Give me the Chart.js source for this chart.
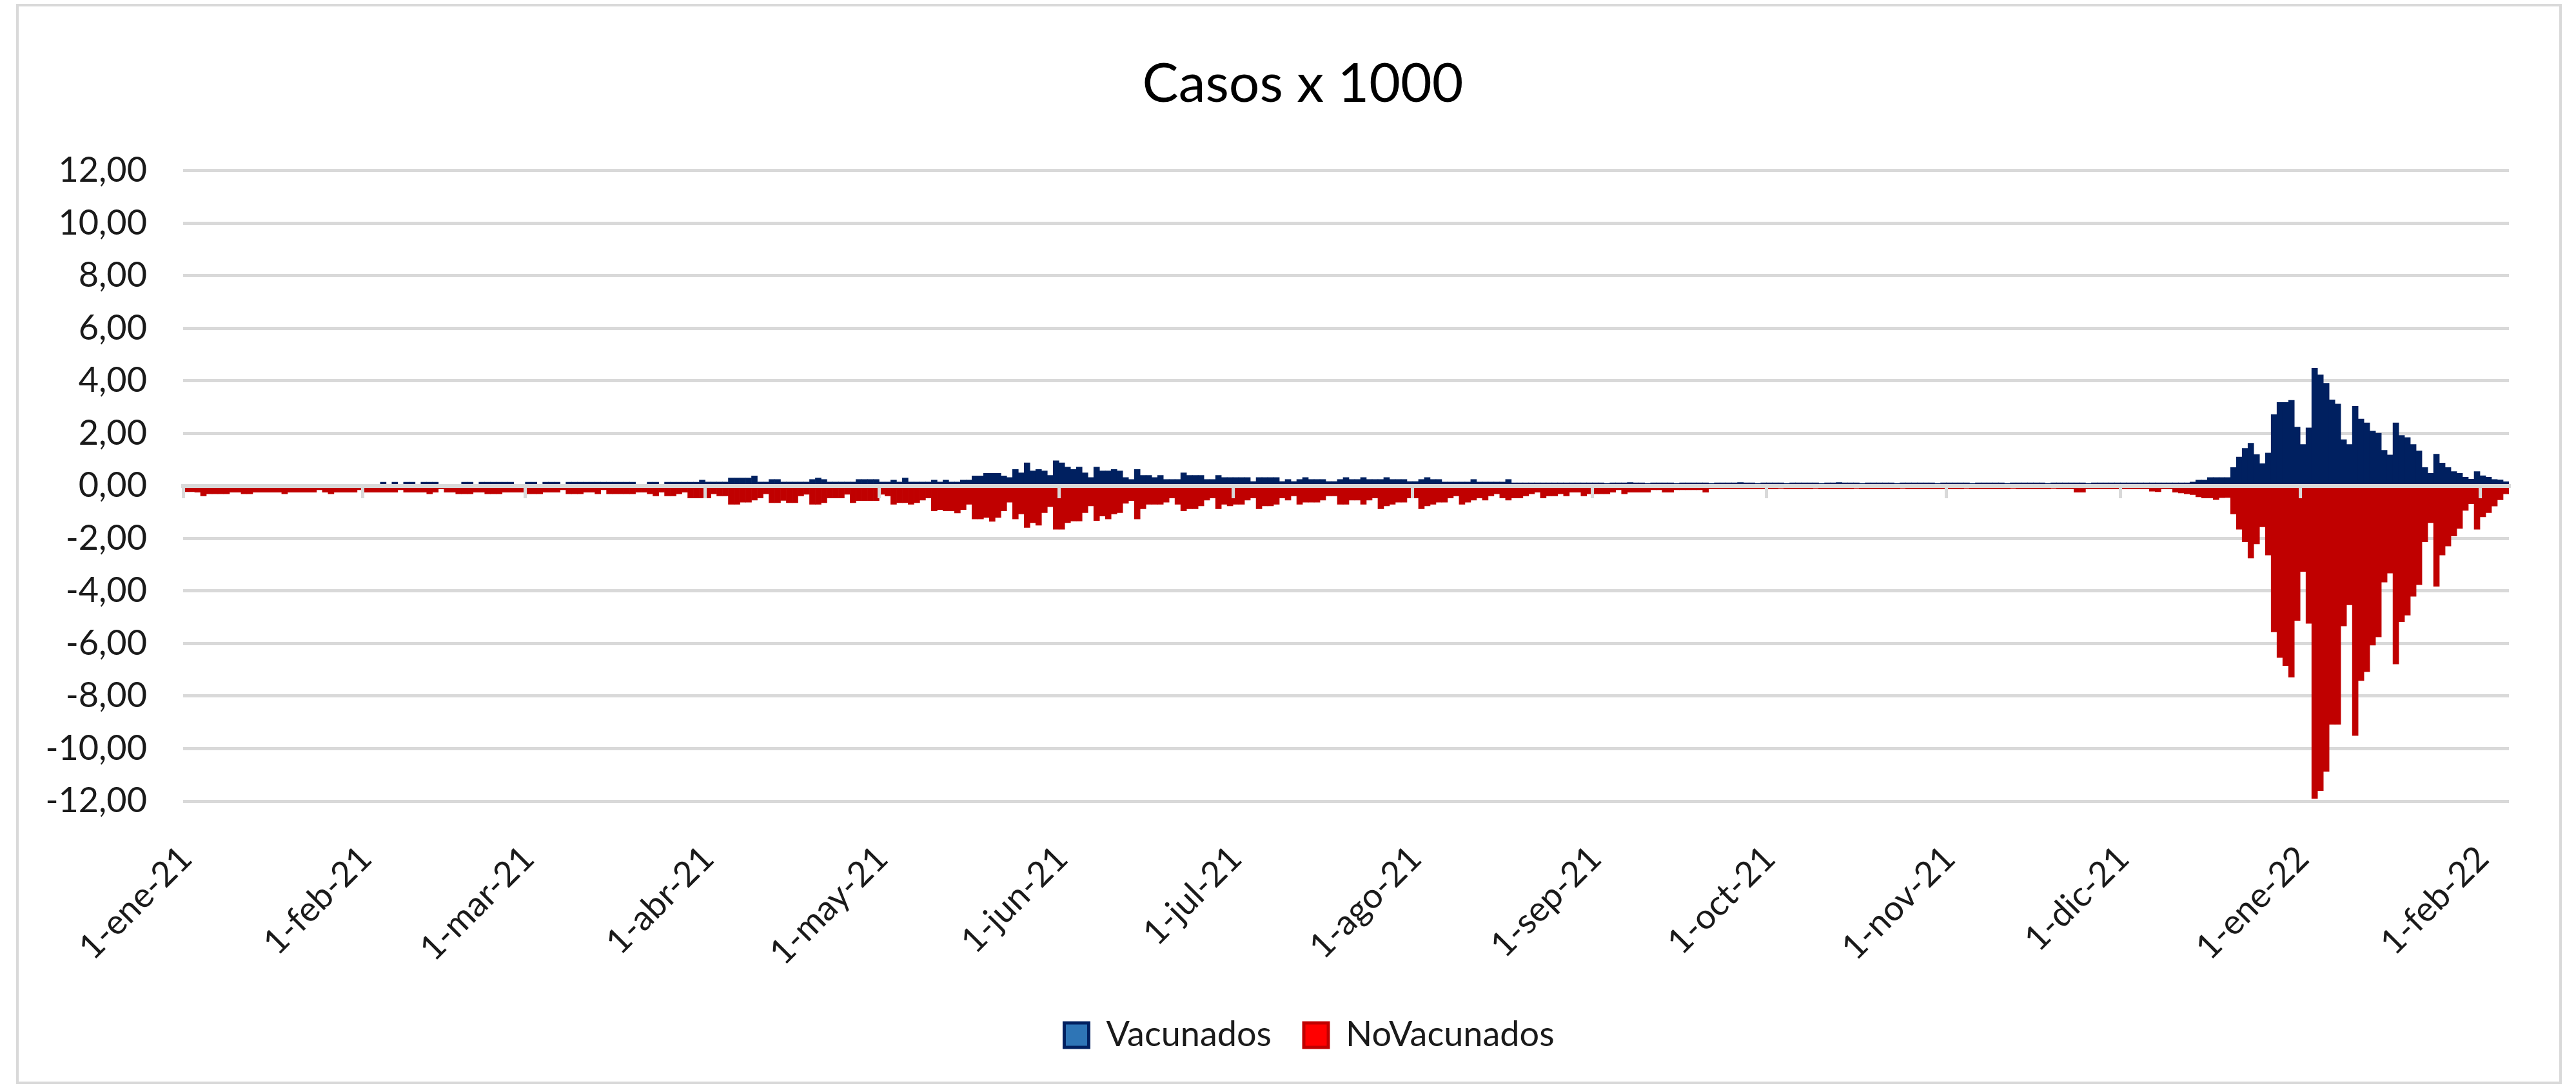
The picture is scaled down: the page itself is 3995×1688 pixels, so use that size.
<!DOCTYPE html>
<html lang="es">
<head>
<meta charset="utf-8">
<title>Casos x 1000</title>
<script src="https://cdn.jsdelivr.net/npm/chart.js@4.4.1/dist/chart.umd.min.js"></script>
<style>
  html, body { margin: 0; padding: 0; background: #fff; }
  #wrap { width: 3995px; height: 1688px; }
</style>
</head>
<body>
<div id="wrap"><canvas id="casosChart" width="3995" height="1688"></canvas></div>
<script>
// Meses para las etiquetas del eje X (d-mmm-aa)
const meses = ['ene', 'feb', 'mar', 'abr', 'may', 'jun', 'jul', 'ago', 'sep', 'oct', 'nov', 'dic'];

// Casos diarios x 1000, del 1-ene-21 al 5-feb-22 (una fila por mes)
const vacunados = [
  0, 0, 0, 0, 0, 0, 0, 0, 0, 0, 0, 0, 0, 0, 0, 0, 0, 0, 0, 0, 0, 0, 0, 0, 0, 0, 0, 0, 0, 0, 0,
  0, 0, 0, 0.14, 0.04, 0.14, 0.04, 0.14, 0.14, 0.04, 0.14, 0.14, 0.14, 0.04, 0.04, 0.04, 0.04, 0.14, 0.14, 0.04, 0.14, 0.14, 0.14, 0.14, 0.14, 0.14, 0.04, 0.04,
  0.14, 0.14, 0.04, 0.14, 0.14, 0.14, 0.04, 0.14, 0.14, 0.14, 0.14, 0.14, 0.14, 0.14, 0.14, 0.14, 0.14, 0.14, 0.14, 0.04, 0.04, 0.14, 0.14, 0.04, 0.14, 0.14, 0.14, 0.14, 0.14, 0.14, 0.22,
  0.15, 0.15, 0.15, 0.15, 0.3, 0.3, 0.3, 0.3, 0.38, 0.15, 0.15, 0.25, 0.25, 0.15, 0.15, 0.15, 0.15, 0.15, 0.25, 0.3, 0.25, 0.15, 0.15, 0.15, 0.15, 0.15, 0.25, 0.25, 0.25, 0.25,
  0.15, 0.15, 0.22, 0.15, 0.3, 0.15, 0.15, 0.15, 0.15, 0.22, 0.15, 0.22, 0.15, 0.15, 0.22, 0.22, 0.38, 0.38, 0.48, 0.48, 0.48, 0.38, 0.32, 0.63, 0.5, 0.88, 0.57, 0.63, 0.57, 0.4, 0.96,
  0.88, 0.72, 0.63, 0.72, 0.5, 0.32, 0.72, 0.57, 0.57, 0.63, 0.57, 0.32, 0.25, 0.63, 0.4, 0.4, 0.32, 0.4, 0.25, 0.25, 0.25, 0.5, 0.4, 0.4, 0.4, 0.25, 0.25, 0.4, 0.32, 0.32,
  0.32, 0.32, 0.32, 0.17, 0.32, 0.32, 0.32, 0.32, 0.17, 0.25, 0.17, 0.25, 0.32, 0.25, 0.25, 0.25, 0.17, 0.17, 0.25, 0.32, 0.25, 0.25, 0.32, 0.25, 0.25, 0.25, 0.32, 0.25, 0.25, 0.25, 0.17,
  0.17, 0.25, 0.32, 0.25, 0.25, 0.15, 0.15, 0.15, 0.15, 0.15, 0.25, 0.15, 0.15, 0.15, 0.15, 0.15, 0.25, 0.12, 0.12, 0.12, 0.12, 0.12, 0.12, 0.12, 0.12, 0.12, 0.12, 0.12, 0.12, 0.12, 0.12,
  0.12, 0.12, 0.1, 0.12, 0.12, 0.12, 0.13, 0.12, 0.12, 0.1, 0.12, 0.12, 0.12, 0.12, 0.1, 0.12, 0.12, 0.12, 0.12, 0.12, 0.1, 0.12, 0.12, 0.12, 0.12, 0.13, 0.12, 0.12, 0.1, 0.12,
  0.12, 0.12, 0.12, 0.1, 0.12, 0.12, 0.12, 0.12, 0.12, 0.1, 0.12, 0.12, 0.13, 0.12, 0.12, 0.12, 0.1, 0.12, 0.12, 0.12, 0.12, 0.12, 0.1, 0.12, 0.12, 0.12, 0.12, 0.12, 0.12, 0.1, 0.12,
  0.12, 0.12, 0.12, 0.12, 0.1, 0.12, 0.12, 0.12, 0.12, 0.12, 0.1, 0.12, 0.12, 0.12, 0.12, 0.12, 0.12, 0.1, 0.12, 0.12, 0.12, 0.12, 0.12, 0.12, 0.1, 0.12, 0.12, 0.12, 0.12, 0.12,
  0.12, 0.12, 0.12, 0.12, 0.12, 0.12, 0.12, 0.12, 0.12, 0.12, 0.12, 0.12, 0.15, 0.22, 0.22, 0.32, 0.32, 0.32, 0.32, 0.7, 1.1, 1.43, 1.63, 1.2, 0.85, 1.25, 2.72, 3.18, 3.18, 3.26, 2.24,
  1.58, 2.21, 4.48, 4.23, 3.91, 3.28, 3.12, 1.76, 1.58, 3.03, 2.55, 2.4, 2.09, 2.01, 1.36, 1.18, 2.4, 1.92, 1.84, 1.58, 1.33, 0.7, 0.48, 1.21, 0.87, 0.7, 0.55, 0.48, 0.33, 0.26, 0.55,
  0.39, 0.33, 0.25, 0.23, 0.16
];

const noVacunados = [
  -0.22, -0.22, -0.24, -0.38, -0.3, -0.3, -0.3, -0.3, -0.24, -0.24, -0.3, -0.3, -0.24, -0.24, -0.24, -0.24, -0.24, -0.3, -0.24, -0.24, -0.24, -0.24, -0.24, -0.15, -0.24, -0.3, -0.24, -0.24, -0.24, -0.24, -0.15,
  -0.24, -0.24, -0.24, -0.24, -0.24, -0.24, -0.15, -0.24, -0.24, -0.24, -0.24, -0.3, -0.24, -0.12, -0.24, -0.24, -0.3, -0.3, -0.3, -0.24, -0.24, -0.3, -0.3, -0.3, -0.24, -0.24, -0.24, -0.24,
  -0.3, -0.3, -0.3, -0.24, -0.24, -0.24, -0.15, -0.3, -0.3, -0.3, -0.24, -0.24, -0.3, -0.15, -0.3, -0.3, -0.3, -0.3, -0.3, -0.24, -0.24, -0.3, -0.38, -0.24, -0.38, -0.38, -0.3, -0.24, -0.46, -0.46, -0.46,
  -0.46, -0.3, -0.38, -0.38, -0.7, -0.7, -0.62, -0.62, -0.54, -0.46, -0.3, -0.64, -0.64, -0.55, -0.64, -0.64, -0.38, -0.32, -0.7, -0.7, -0.64, -0.46, -0.46, -0.46, -0.32, -0.64, -0.56, -0.56, -0.56, -0.56,
  -0.32, -0.38, -0.7, -0.64, -0.64, -0.7, -0.64, -0.54, -0.46, -0.95, -0.9, -0.95, -0.95, -1.03, -0.9, -0.7, -1.26, -1.26, -1.2, -1.35, -1.2, -0.95, -0.62, -1.26, -1.07, -1.58, -1.4, -1.5, -1.02, -0.79, -1.65,
  -1.65, -1.4, -1.34, -1.34, -1.02, -0.76, -1.32, -1.15, -1.26, -1.07, -1.02, -0.66, -0.56, -1.26, -0.87, -0.7, -0.7, -0.7, -0.62, -0.46, -0.7, -0.95, -0.87, -0.87, -0.76, -0.54, -0.46, -0.87, -0.7, -0.76,
  -0.7, -0.7, -0.54, -0.46, -0.87, -0.76, -0.76, -0.7, -0.46, -0.54, -0.38, -0.7, -0.62, -0.62, -0.62, -0.54, -0.38, -0.38, -0.7, -0.7, -0.54, -0.54, -0.7, -0.54, -0.46, -0.87, -0.76, -0.7, -0.62, -0.62, -0.46,
  -0.46, -0.87, -0.76, -0.7, -0.62, -0.62, -0.46, -0.38, -0.7, -0.62, -0.54, -0.46, -0.54, -0.38, -0.3, -0.46, -0.54, -0.46, -0.46, -0.38, -0.3, -0.24, -0.46, -0.38, -0.38, -0.3, -0.38, -0.24, -0.24, -0.38, -0.3,
  -0.3, -0.3, -0.3, -0.24, -0.15, -0.3, -0.24, -0.24, -0.24, -0.24, -0.15, -0.15, -0.24, -0.24, -0.15, -0.15, -0.15, -0.15, -0.15, -0.24, -0.12, -0.12, -0.12, -0.12, -0.12, -0.12, -0.12, -0.12, -0.12, -0.12,
  -0.12, -0.12, -0.1, -0.12, -0.12, -0.12, -0.12, -0.12, -0.1, -0.12, -0.12, -0.12, -0.12, -0.12, -0.12, -0.1, -0.12, -0.12, -0.12, -0.12, -0.12, -0.12, -0.12, -0.1, -0.12, -0.12, -0.12, -0.12, -0.12, -0.12, -0.12,
  -0.12, -0.12, -0.12, -0.1, -0.12, -0.12, -0.12, -0.12, -0.12, -0.12, -0.12, -0.1, -0.12, -0.12, -0.12, -0.12, -0.12, -0.12, -0.1, -0.12, -0.12, -0.12, -0.24, -0.24, -0.12, -0.12, -0.12, -0.12, -0.12, -0.12,
  -0.12, -0.12, -0.12, -0.12, -0.12, -0.2, -0.22, -0.12, -0.12, -0.24, -0.27, -0.3, -0.33, -0.42, -0.46, -0.46, -0.52, -0.45, -0.44, -1.07, -1.65, -2.13, -2.75, -2.21, -1.56, -2.63, -5.56, -6.53, -6.84, -7.28, -5.12,
  -3.26, -5.23, -11.9, -11.6, -10.87, -9.08, -9.08, -5.33, -4.53, -9.5, -7.41, -7.07, -6.06, -5.75, -3.66, -3.32, -6.78, -5.17, -4.92, -4.2, -3.76, -2.13, -1.4, -3.82, -2.63, -2.29, -1.91, -1.62, -0.93, -0.68, -1.65,
  -1.18, -1.02, -0.77, -0.53, -0.3
];

// Etiquetas de categoría: una fecha por día
const fechas = [];
for (let i = 0; i < vacunados.length; i++) {
  const d = new Date(2021, 0, 1 + i);
  fechas.push(d.getDate() + '-' + meses[d.getMonth()] + '-' + String(d.getFullYear()).slice(2));
}
const esInicioMes = i => typeof fechas[i] === 'string' && fechas[i].startsWith('1-');

const colorTexto = '#1a1a1a';
const colorRejilla = '#d9d9d9';
const fuente = 'Lato';

// Marco gris del área del gráfico
const marcoGrafico = {
  id: 'marcoGrafico',
  beforeDraw(chart) {
    const ctx = chart.ctx;
    ctx.save();
    ctx.fillStyle = '#ffffff';
    ctx.fillRect(0, 0, chart.width, chart.height);
    ctx.strokeStyle = colorRejilla;
    ctx.lineWidth = 4;
    ctx.strokeRect(27, 8, 3944, 1672);
    ctx.restore();
  }
};

// Título y leyenda un poco desplazados a la derecha, como en el original
const desplazarCajas = {
  id: 'desplazarCajas',
  afterLayout(chart) {
    if (chart.titleBlock) { chart.titleBlock.left += 48; chart.titleBlock.right += 48; }
    if (chart.legend) { chart.legend.left += 58; chart.legend.right += 58; }
  }
};

const ctx = document.getElementById('casosChart').getContext('2d');
new Chart(ctx, {
  type: 'bar',
  data: {
    labels: fechas,
    datasets: [
      {
        label: 'Vacunados',
        data: vacunados,
        backgroundColor: '#002060',
        borderWidth: 0,
        xAxisID: 'x',
        barPercentage: 1,
        categoryPercentage: 1
      },
      {
        label: 'NoVacunados',
        data: noVacunados,
        backgroundColor: '#C00000',
        borderWidth: 0,
        xAxisID: 'x',
        barPercentage: 1,
        categoryPercentage: 1
      }
    ]
  },
  options: {
    responsive: false,
    animation: false,
    layout: { padding: { left: 54, right: 104, top: 0, bottom: 45 } },
    plugins: {
      title: {
        display: true,
        text: 'Casos x 1000',
        color: '#000000',
        font: { family: fuente, size: 84, weight: 'normal' },
        padding: { top: 81, bottom: 83 }
      },
      legend: {
        position: 'bottom',
        labels: {
          color: colorTexto,
          font: { family: fuente, size: 54 },
          boxWidth: 38,
          boxHeight: 38,
          padding: 50,
          generateLabels: function (chart) {
            const items = Chart.defaults.plugins.legend.labels.generateLabels(chart);
            items[0].fillStyle = '#2E75B6';
            items[0].strokeStyle = '#002060';
            items[1].fillStyle = '#FF0000';
            items[1].strokeStyle = '#C00000';
            items.forEach(it => { it.lineWidth = 5; });
            return items;
          }
        }
      },
      tooltip: { enabled: false }
    },
    scales: {
      x: {
        stacked: true,
        offset: true,
        grid: { display: false, drawTicks: false },
        border: { display: false },
        ticks: {
          autoSkip: false,
          minRotation: 45,
          maxRotation: 45,
          padding: 57,
          color: colorTexto,
          font: { family: fuente, size: 54 },
          callback: function (value) {
            return esInicioMes(value) ? fechas[value] : '';
          }
        },
        afterFit: function (scale) { scale.height = 286; }
      },
      // eje horizontal en el cero, con marcas al inicio de cada mes
      x2: {
        type: 'category',
        position: { y: 0 },
        offset: true,
        ticks: { display: false },
        grid: {
          offset: true,
          drawOnChartArea: false,
          drawTicks: true,
          tickLength: 16,
          lineWidth: 5,
          z: 1,
          color: function (c) {
            return (c.type === 'tick' && esInicioMes(c.index)) ? colorRejilla : 'rgba(0,0,0,0)';
          }
        },
        border: { display: true, color: colorRejilla, width: 6, z: 1 }
      },
      y: {
        stacked: true,
        min: -12,
        max: 12,
        grid: { color: colorRejilla, lineWidth: 5, drawTicks: false },
        border: { display: false },
        ticks: {
          stepSize: 2,
          padding: 56,
          color: colorTexto,
          font: { family: fuente, size: 54 },
          callback: function (value) {
            return value.toFixed(2).replace('.', ',');
          }
        },
        afterFit: function (scale) { scale.width = 230; }
      }
    }
  },
  plugins: [marcoGrafico, desplazarCajas]
});
</script>
</body>
</html>
